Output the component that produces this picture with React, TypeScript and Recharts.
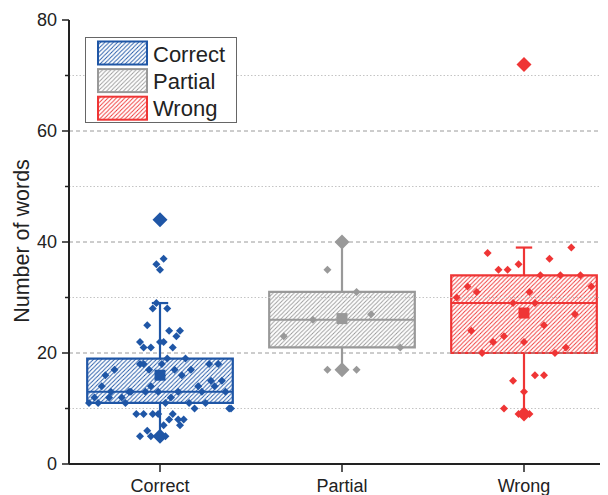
import React from 'react';
import { ComposedChart, XAxis, YAxis, Scatter, ReferenceArea, ReferenceLine, Legend } from 'recharts';

const categories = ['Correct', 'Partial', 'Wrong'];
const colors = ['#1f56a6', '#999999', '#ef3535'];
const patternIds = ['hatch-correct', 'hatch-partial', 'hatch-wrong'];

const correctValues = [37, 36, 35, 29, 28, 28, 25, 24, 24, 23, 22, 22, 22, 21, 21, 21, 19, 19, 18, 18, 18, 18, 18, 17, 17, 17, 17, 16, 16, 15, 15, 14, 14, 14, 14, 13, 13, 13, 13, 13, 13, 13, 13, 12, 12, 12, 12, 11, 11, 11, 11, 11, 11, 10, 10, 10, 9, 9, 9, 9, 9, 8, 8, 8, 7, 7, 6, 5, 5, 5, 5];
const correctJitter = [0.02, -0.02, 0, -0.02, -0.04, 0.04, -0.07, 0.05, 0.11, 0.09, -0.11, 0, 0.02, -0.09, -0.05, 0.07, 0.04, 0.14, -0.11, -0.09, 0.01, 0.27, 0.32, -0.25, -0.06, 0.08, 0.17, -0.3, 0.12, 0.28, 0.34, -0.32, -0.05, 0.21, 0.3, -0.27, -0.17, -0.16, -0.08, -0.01, 0.1, 0.23, 0.36, -0.36, -0.28, -0.21, 0.06, -0.39, -0.34, -0.19, 0.03, 0.16, 0.25, 0.19, 0.38, 0.39, -0.13, -0.09, -0.04, -0.01, 0.07, 0.05, 0.1, 0.13, 0.02, 0.11, -0.07, -0.11, -0.05, -0.01, 0.03];

const partialValues = [35, 31, 27, 26, 23, 21, 17, 17];
const partialJitter = [-0.08, 0.08, 0.16, -0.16, -0.32, 0.32, -0.08, 0.08];

const wrongValues = [39, 38, 37, 36, 35, 35, 34, 34, 34, 32, 32, 31, 31, 30, 29, 29, 27, 25, 24, 23, 22, 22, 21, 20, 20, 16, 16, 15, 13, 10, 9, 9];
const wrongJitter = [0.26, -0.2, 0.14, -0.03, -0.14, -0.09, 0.09, 0.2, 0.31, -0.31, 0.37, -0.26, 0.03, -0.37, -0.06, 0.06, 0.28, 0.11, -0.29, -0.11, -0.17, 0, 0.23, -0.23, 0.17, 0.06, 0.11, -0.06, 0, -0.11, -0.03, 0.03];

const q1 = [11, 21, 20];
const medians = [13, 26, 29];
const q3 = [19, 31, 34];
const whiskerLow = [5, 17, 9];
const whiskerHigh = [29, 40, 39];
const means = [16, 26.2, 27.2];
const minMarkers = [5, 17, 9];
const maxMarkers = [44, 40, 72];
const hasCap = [true, false, true];

const yTicks = [0, 10, 20, 30, 40, 50, 60, 70, 80];
const majorGrid = [20, 40, 60];
const minorGrid = [10, 30, 50, 70];

const BOX_HALF = 0.4;
const CAP_HALF = 0.045;
const FONT = '"Liberation Sans", Arial, Helvetica, sans-serif';
const AXIS_COLOR = '#222';

const pointSets = [
  correctValues.map((v, i) => ({ x: 0 + correctJitter[i], y: v })),
  partialValues.map((v, i) => ({ x: 1 + partialJitter[i], y: v })),
  wrongValues.map((v, i) => ({ x: 2 + wrongJitter[i], y: v })),
];

const makeDiamond = (r: number) => (props: any) => {
  const { cx, cy, fill } = props;
  if (cx == null || cy == null) return <g />;
  return <path d={`M${cx},${cy - r}L${cx + r},${cy}L${cx},${cy + r}L${cx - r},${cy}Z`} fill={fill} />;
};
const makeSquare = (h: number) => (props: any) => {
  const { cx, cy, fill } = props;
  if (cx == null || cy == null) return <g />;
  return <rect x={cx - h} y={cy - h} width={2 * h} height={2 * h} fill={fill} />;
};

const smallDiamond = makeDiamond(4);
const bigDiamond = makeDiamond(7.5);
const meanSquare = makeSquare(5.5);

const YTick = (props: any) => {
  const { x, y, payload } = props;
  const major = payload.value % 20 === 0;
  const len = major ? 7 : 4;
  return (
    <g>
      <line x1={x - len} x2={x} y1={y} y2={y} stroke={AXIS_COLOR} strokeWidth={1.5} />
      {major && (
        <text x={x - len - 5} y={y} textAnchor="end" dominantBaseline="central" fontSize={18} fontFamily={FONT} fill={AXIS_COLOR}>
          {payload.value}
        </text>
      )}
    </g>
  );
};

const renderLegend = () => (
  <svg width={152} height={86} style={{ display: 'block' }}>
    <rect x={0.5} y={0.5} width={151} height={85} fill="#fff" stroke="#666" strokeWidth={1} />
    {categories.map((c, k) => (
      <g key={c}>
        <rect x={13} y={4.5 + k * 27.6} width={49} height={23} fill={`url(#${patternIds[k]})`} stroke={colors[k]} strokeWidth={2} />
        <text x={68} y={24.5 + k * 27.3} fontSize={22} fontFamily={FONT} fill={AXIS_COLOR}>{c}</text>
      </g>
    ))}
  </svg>
);

const YLabel = (props: any) => {
  const { viewBox } = props;
  const cx = viewBox.x + 21;
  const cy = viewBox.y + viewBox.height / 2 - 1;
  return (
    <text x={cx} y={cy} transform={`rotate(-90 ${cx} ${cy})`} textAnchor="middle" fontSize={21.5} fontFamily={FONT} fill={AXIS_COLOR}>
      Number of words
    </text>
  );
};

export default function App() {
  return (
    <div style={{ width: 600, height: 487, overflow: 'hidden', position: 'relative' }}>
      <svg width={0} height={0} style={{ position: 'absolute' }}>
        <defs>
          {colors.map((col, k) => (
            <pattern key={k} id={patternIds[k]} patternUnits="userSpaceOnUse" width={4.2} height={4.2}>
              <path d="M-1,1 L1,-1 M0,4.2 L4.2,0 M3.2,5.2 L5.2,3.2" stroke={col} strokeWidth={0.9} />
            </pattern>
          ))}
        </defs>
      </svg>
      <ComposedChart width={612} height={487} margin={{ top: 12, right: 5, bottom: 0, left: 0 }}>
        <XAxis
          xAxisId={0}
          type="number"
          dataKey="x"
          domain={[-0.5, 2.5]}
          ticks={[0, 1, 2]}
          tickFormatter={(v: number) => categories[v] ?? ''}
          height={31}
          tickSize={8}
          tickMargin={7}
          axisLine={{ stroke: AXIS_COLOR, strokeWidth: 2 }}
          tickLine={{ stroke: AXIS_COLOR, strokeWidth: 1.5 }}
          tick={{ fontSize: 18, fontFamily: FONT, fill: AXIS_COLOR }}
          allowDataOverflow
        />
        <XAxis
          xAxisId="top"
          orientation="top"
          type="number"
          domain={[-0.5, 2.5]}
          ticks={[0, 1, 2]}
          height={0}
          mirror
          tickSize={8}
          tick={false}
          axisLine={{ stroke: AXIS_COLOR, strokeWidth: 2 }}
          tickLine={{ stroke: AXIS_COLOR, strokeWidth: 1.5 }}
          allowDataOverflow
        />
        <YAxis
          type="number"
          dataKey="y"
          domain={[0, 80]}
          ticks={yTicks}
          width={61}
          tickSize={0}
          tickMargin={0}
          tickLine={false}
          interval={0}
          tick={<YTick />}
          axisLine={{ stroke: AXIS_COLOR, strokeWidth: 2 }}
          label={<YLabel />}
          allowDataOverflow
        />
        {minorGrid.map((g) => (
          <ReferenceLine key={`mi${g}`} y={g} stroke="#c4c4c4" strokeWidth={1} strokeDasharray="1.5 2" />
        ))}
        {majorGrid.map((g) => (
          <ReferenceLine key={`ma${g}`} y={g} stroke="#9a9a9a" strokeWidth={1} strokeDasharray="4 3" />
        ))}
        {categories.map((c, k) => (
          <ReferenceLine key={`wl${k}`} segment={[{ x: k, y: whiskerLow[k] }, { x: k, y: q1[k] }]} stroke={colors[k]} strokeWidth={2.2} />
        ))}
        {categories.map((c, k) => (
          <ReferenceLine key={`wh${k}`} segment={[{ x: k, y: q3[k] }, { x: k, y: whiskerHigh[k] }]} stroke={colors[k]} strokeWidth={2.2} />
        ))}
        {categories.map((c, k) =>
          hasCap[k] ? (
            <ReferenceLine key={`cap${k}`} segment={[{ x: k - CAP_HALF, y: whiskerHigh[k] }, { x: k + CAP_HALF, y: whiskerHigh[k] }]} stroke={colors[k]} strokeWidth={2.2} />
          ) : null
        )}
        {categories.map((c, k) => (
          <ReferenceArea
            key={`box${k}`}
            x1={k - BOX_HALF}
            x2={k + BOX_HALF}
            y1={q1[k]}
            y2={q3[k]}
            fill={`url(#${patternIds[k]})`}
            fillOpacity={1}
            stroke={colors[k]}
            strokeWidth={2.2}
          />
        ))}
        {categories.map((c, k) => (
          <ReferenceLine key={`med${k}`} segment={[{ x: k - BOX_HALF, y: medians[k] }, { x: k + BOX_HALF, y: medians[k] }]} stroke={colors[k]} strokeWidth={2} />
        ))}
        {categories.map((c, k) => (
          <Scatter key={`pts${k}`} name={c} data={pointSets[k]} fill={colors[k]} shape={smallDiamond} isAnimationActive={false} />
        ))}
        {categories.map((c, k) => (
          <Scatter key={`mean${k}`} data={[{ x: k, y: means[k] }]} fill={colors[k]} shape={meanSquare} isAnimationActive={false} legendType="none" />
        ))}
        {categories.map((c, k) => (
          <Scatter key={`mm${k}`} data={[{ x: k, y: minMarkers[k] }, { x: k, y: maxMarkers[k] }]} fill={colors[k]} shape={bigDiamond} isAnimationActive={false} legendType="none" />
        ))}
        <Legend
          layout="vertical"
          align="center"
          verticalAlign="middle"
          content={renderLegend}
          wrapperStyle={{ position: 'absolute', left: 77, top: 29, width: 152, height: 86 }}
        />
      </ComposedChart>
    </div>
  );
}
